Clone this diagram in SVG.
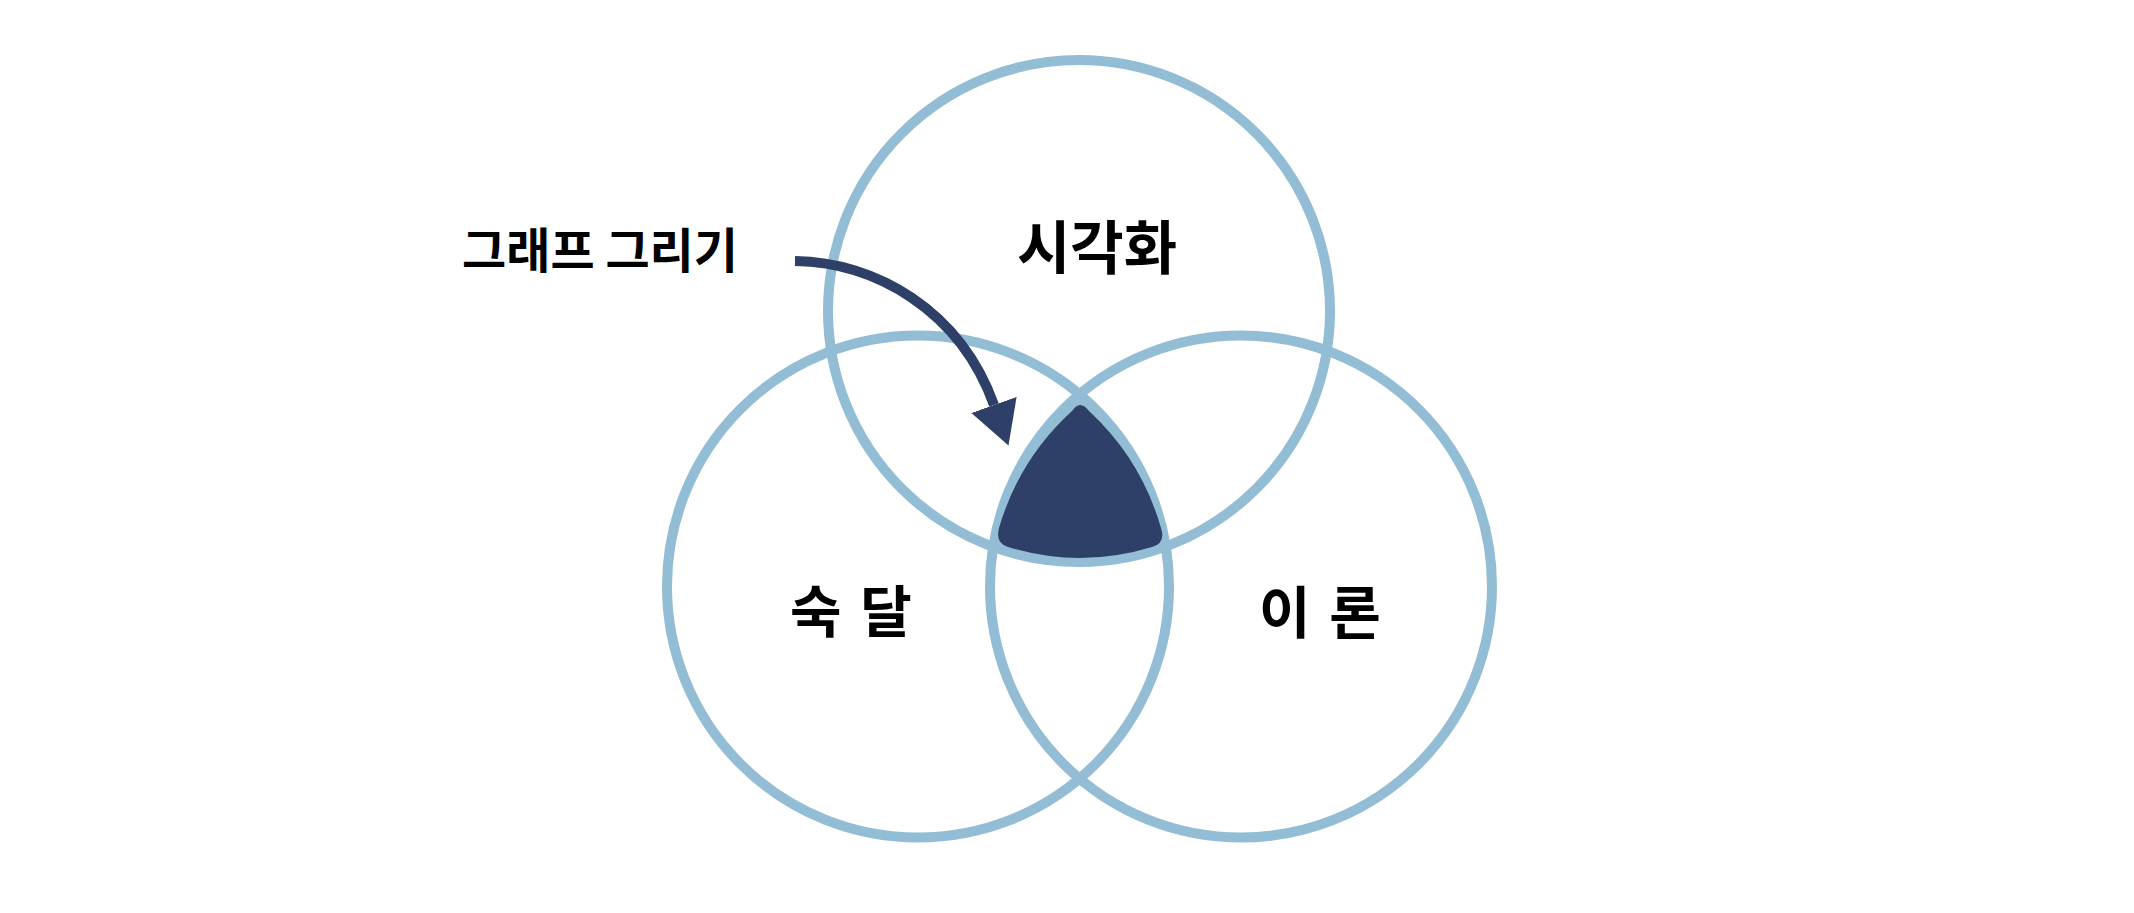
<svg xmlns="http://www.w3.org/2000/svg" width="2134" height="913" viewBox="0 0 2134 913">
<style>
.ring{fill:none;stroke:#93bdd5;stroke-width:10}
.lbl{font-family:"Noto Sans CJK KR","Noto Sans",sans-serif;font-weight:bold;fill:#000;text-anchor:middle}
.arrow{fill:none;stroke:#2e4067;stroke-width:10}
</style>
<defs>
<marker id="head" markerUnits="userSpaceOnUse" viewBox="0 -26 46 52" refX="0" refY="0" markerWidth="46" markerHeight="52" orient="auto">
<path d="M0,-24 L43,0 L0,24 Z" fill="#2e4067"/>
</marker>
</defs>
<rect width="2134" height="913" fill="#fff"/>
<g id="circle-top"><circle class="ring" cx="1079" cy="311" r="251"/></g>
<g id="circle-left"><circle class="ring" cx="918" cy="586.5" r="251"/></g>
<g id="circle-right"><circle class="ring" cx="1241" cy="586.5" r="251"/></g>
<g id="center">
<path d="M1079.5 394.4 A251 251 0 0 1 1166 547 A251 251 0 0 1 993 547 A251 251 0 0 1 1079.5 394.4 Z" fill="#93bdd5"/>
<path d="M1072 411 Q1080 399 1089 411 A255 255 0 0 1 1161 528 Q1166 543 1152 547 A246 246 0 0 1 1008 547 Q995 543 999 528 A255 255 0 0 1 1072 411 Z" fill="#2e4067"/>
</g>
<g id="label-top"><text class="lbl" x="1097" y="269" font-size="58">시각화</text></g>
<g id="label-left"><text class="lbl" x="851" y="632" font-size="56" word-spacing="6">숙 달</text></g>
<g id="label-right"><text class="lbl" x="1320" y="633" font-size="56" word-spacing="6">이 론</text></g>
<g id="label-graph"><text class="lbl" x="600" y="268" font-size="48">그래프 그리기</text></g>
<g id="connectors">
<path class="arrow" d="M795 261 C875 262 960 310 994 405" marker-end="url(#head)"/>
</g>
</svg>
